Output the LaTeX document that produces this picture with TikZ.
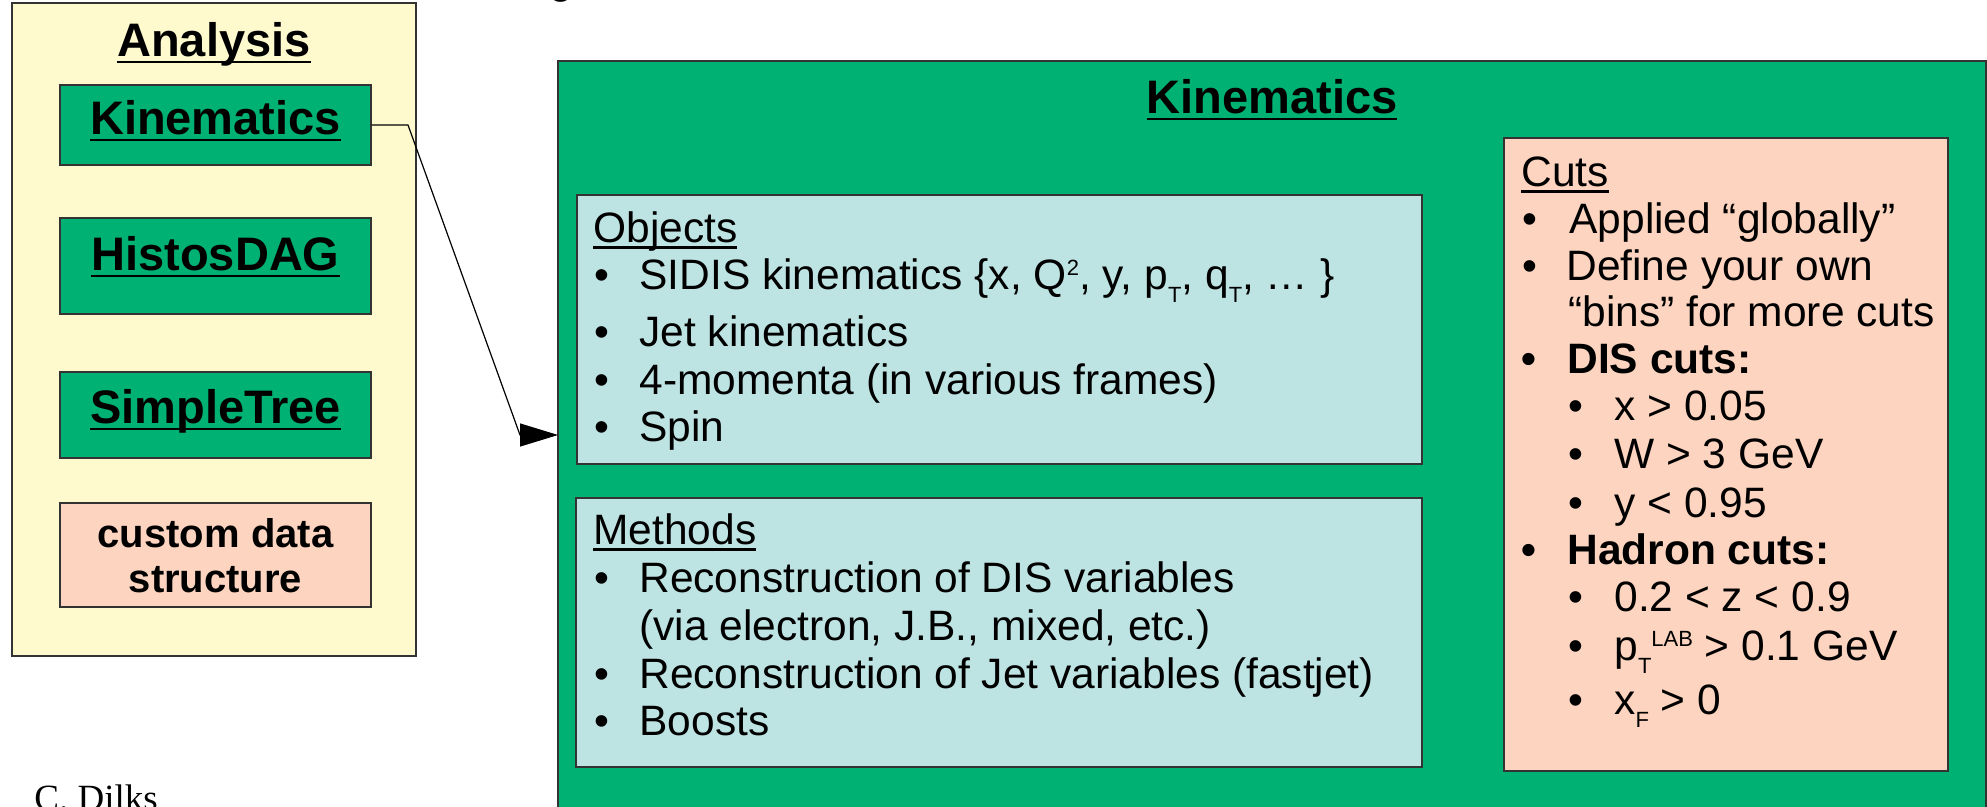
\documentclass[tikz,border=0pt]{standalone}
\usepackage{fontspec}
\setmainfont{Liberation Sans}
\newfontfamily\serifdl{Liberation Serif}
\usetikzlibrary{fit,arrows.meta}
\definecolor{kgreen}{RGB}{0,177,116}
\definecolor{pyellow}{RGB}{255,250,205}
\definecolor{pblue}{RGB}{190,227,227}
\definecolor{ppeach}{RGB}{252,212,192}
\newcommand\ulx[1]{\setbox0\hbox{#1}\rlap{\rule[-0.13em]{\wd0}{0.05em}}\box0}
\newcommand\bodyfont{\fontsize{21.25}{25}\selectfont}
\newcommand\ttlfont{\fontsize{23.5}{28}\selectfont\bfseries}
\newcommand\mysub[1]{\raisebox{-6.5pt}{\fontsize{11}{11}\selectfont #1}}
\newcommand\mysup[1]{\raisebox{7pt}{\fontsize{11}{11}\selectfont #1}}
\begin{document}
\begin{tikzpicture}[x=0.5pt,y=-0.5pt,
  box/.style={draw=black!80, line width=0.7pt, inner sep=0pt},
  txt/.style={anchor=base west, inner sep=0pt, font=\bodyfont},
  ctr/.style={anchor=base, inner sep=0pt},
  bul/.style={anchor=base west, inner sep=0pt, font=\bodyfont},
]
\useasboundingbox (0,0) rectangle (1987,807);

% fragment of text above the picture
\node[txt] (gfrag) at (549,-6) {g};

% left column
\node[box, fill=pyellow, fit={(12,3) (416,656)}] (analysis) {};
\node[ctr, font=\ttlfont] (analysisT) at (214,57) {\ulx{Analysis}};
\node[box, fill=kgreen, fit={(60,85) (371,165)}] (kin) {};
\node[ctr, font=\ttlfont] (kinT) at (215.5,135) {\ulx{Kinematics}};
\node[box, fill=kgreen, fit={(60,218) (371,314)}] (hist) {};
\node[ctr, font=\ttlfont] (histT) at (215.5,271) {\ulx{HistosDAG}};
\node[box, fill=kgreen, fit={(60,372) (371,458)}] (simple) {};
\node[ctr, font=\ttlfont] (simpleT) at (215.5,424) {\ulx{SimpleTree}};
\node[box, fill=ppeach, fit={(60,503) (371,607)}] (custom) {};
\node[ctr, font=\fontsize{20}{24}\selectfont\bfseries] (customA) at (215.5,547) {custom data};
\node[ctr, font=\fontsize{20}{24}\selectfont\bfseries] (customB) at (215.5,592) {structure};

\node[anchor=base west, inner sep=0pt, font=\serifdl\fontsize{18.5}{22}\selectfont] (author) at (34,810) {C. Dilks};

% big kinematics box
\node[box, fill=kgreen, fit={(558,61) (1986,840)}] (kinbig) {};
\node[ctr, font=\ttlfont] (kinbigT) at (1272,114) {\ulx{Kinematics}};

% Objects
\node[box, fill=pblue, fit={(577,195) (1422,464)}] (objects) {};
\node[txt] (o0) at (593,243) {\ulx{Objects}};
\node[bul] (o1b) at (594,290) {•};
\node[txt] (o1) at (639,290) {SIDIS kinematics \{x, Q\mysup{2}, y, p\mysub{T}, q\mysub{T}, … \}};
\node[bul] (o2b) at (594,347) {•};
\node[txt] (o2) at (639,347) {Jet kinematics};
\node[bul] (o3b) at (594,395) {•};
\node[txt] (o3) at (639,395) {4-momenta (in various frames)};
\node[bul] (o4b) at (594,442) {•};
\node[txt] (o4) at (639,442) {Spin};

% Methods
\node[box, fill=pblue, fit={(576,498) (1422,767)}] (methods) {};
\node[txt] (m0) at (593,545) {\ulx{Methods}};
\node[bul] (m1b) at (594,592) {•};
\node[txt] (m1) at (639,592) {Reconstruction of DIS variables};
\node[txt] (m1c) at (639,640) {(via electron, J.B., mixed, etc.)};
\node[bul] (m2b) at (594,688) {•};
\node[txt] (m2) at (639,688) {Reconstruction of Jet variables (fastjet)};
\node[bul] (m3b) at (594,735) {•};
\node[txt] (m3) at (639,735) {Boosts};

% Cuts
\node[box, fill=ppeach, fit={(1504,138) (1948,771)}] (cuts) {};
\node[txt] (c0) at (1521,187) {\ulx{Cuts}};
\node[bul] (c1b) at (1522,234) {•};
\node[txt] (c1) at (1569,234) {Applied “globally”};
\node[bul] (c2b) at (1522,281) {•};
\node[txt] (c2) at (1566,281) {Define your own};
\node[txt] (c2c) at (1568,327) {“bins” for more cuts};
\node[bul, font=\bodyfont\bfseries] (c3b) at (1521,374) {•};
\node[txt, font=\bodyfont\bfseries] (c3) at (1567,374) {DIS cuts:};
\node[bul] (c4b) at (1568,421) {•};
\node[txt] (c4) at (1614,421) {x > 0.05};
\node[bul] (c5b) at (1568,469) {•};
\node[txt] (c5) at (1614,469) {W > 3 GeV};
\node[bul] (c6b) at (1568,517) {•};
\node[txt] (c6) at (1614,517) {y < 0.95};
\node[bul, font=\bodyfont\bfseries] (c7b) at (1521,564) {•};
\node[txt, font=\bodyfont\bfseries] (c7) at (1567,564) {Hadron cuts:};
\node[bul] (c8b) at (1568,611) {•};
\node[txt] (c8) at (1614,611) {0.2 < z < 0.9};
\node[bul] (c9b) at (1568,660) {•};
\node[txt] (c9) at (1614,660) {p\mysub{T}\mysup{LAB} > 0.1 GeV};
\node[bul] (c10b) at (1568,714) {•};
\node[txt] (c10) at (1614,714) {x\mysub{F} > 0};

% connector
\coordinate (bend1) at (408,125);
\coordinate (bend2) at (520,435);
\coordinate (tip) at (558,435);
\draw[line width=0.6pt, -{Triangle[length=19pt,width=11.5pt]}] (kin.east) -- (bend1) -- (bend2) -- (tip);
\end{tikzpicture}
\end{document}
